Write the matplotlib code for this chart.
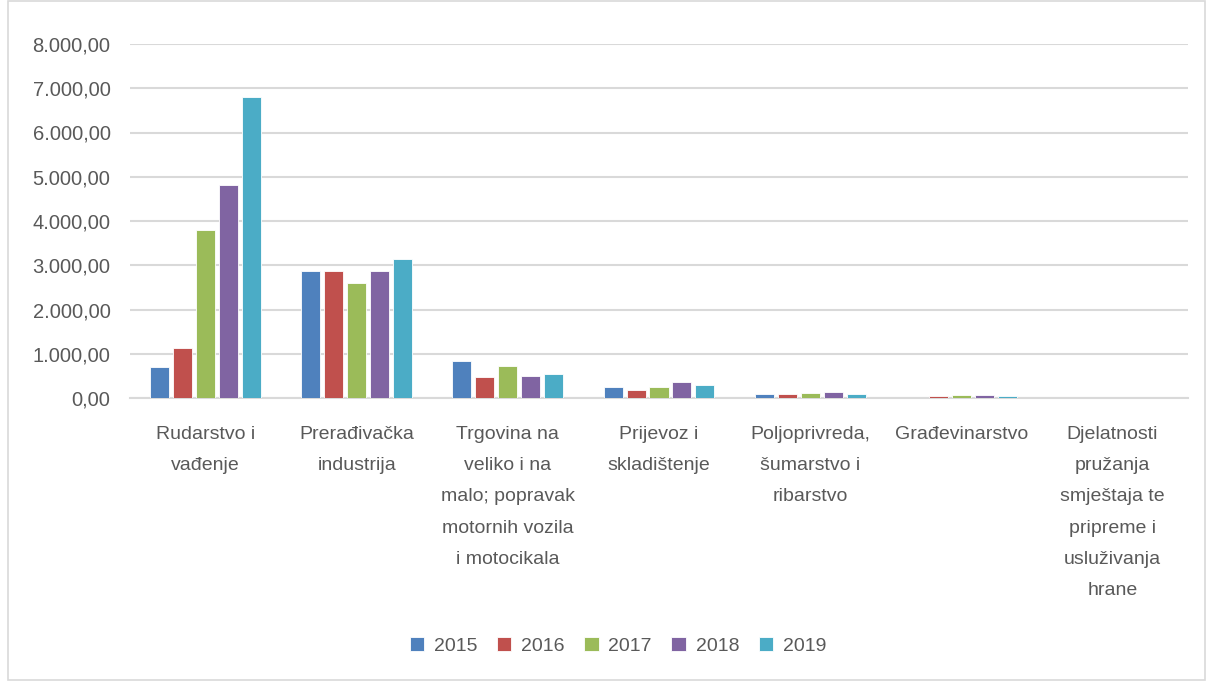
import matplotlib
matplotlib.use("Agg")
import matplotlib.pyplot as plt
import numpy as np
from matplotlib.patches import Rectangle
from matplotlib.ticker import FuncFormatter

categories = ["Rudarstvo i\nvađenje", "Prerađivačka\nindustrija",
              "Trgovina na\nveliko i na\nmalo; popravak\nmotornih vozila\ni motocikala",
              "Prijevoz i\nskladištenje", "Poljoprivreda,\nšumarstvo i\nribarstvo",
              "Građevinarstvo",
              "Djelatnosti\npružanja\nsmještaja te\npripreme i\nusluživanja\nhrane"]
years = ["2015", "2016", "2017", "2018", "2019"]
v2015 = [700, 2860, 830, 240, 90, 0, 0]
v2016 = [1130, 2860, 470, 180, 90, 50, 0]
v2017 = [3800, 2610, 720, 240, 120, 75, 0]
v2018 = [4820, 2860, 500, 360, 145, 75, 0]
v2019 = [6800, 3140, 540, 300, 90, 40, 0]
series = [v2015, v2016, v2017, v2018, v2019]
colors = ["#4F81BD", "#C0504D", "#9BBB59", "#8064A2", "#4BACC6"]
yticks = [0, 1000, 2000, 3000, 4000, 5000, 6000, 7000, 8000]

plt.rcParams['font.family'] = ['Liberation Sans Narrow', 'Liberation Sans', 'DejaVu Sans']

fig = plt.figure(figsize=(12.06, 6.81), dpi=100)
ax = fig.add_axes([130/1206, 1 - 398/681, (1188-130)/1206, (398-44)/681])

x = np.arange(len(categories))
step = 0.152
width = 0.126
for i, (vals, c, yr) in enumerate(zip(series, colors, years)):
    ax.bar(x + (i - 2) * step, vals, width=width, color=c, label=yr,
           edgecolor="white", linewidth=0.6, zorder=3)

ax.set_xlim(-0.5, len(categories) - 0.5)
ax.set_ylim(0, 8000)
ax.set_yticks(yticks)
def fmt(v, pos):
    s = f"{v:,.2f}"
    return s.replace(",", "X").replace(".", ",").replace("X", ".")
ax.yaxis.set_major_formatter(FuncFormatter(fmt))
ax.grid(axis='y', color="#D9D9D9", linewidth=1.5, zorder=0)
for s in ["top", "right", "left"]:
    ax.spines[s].set_visible(False)
ax.spines["bottom"].set_color("#D9D9D9")
ax.spines["bottom"].set_linewidth(1.5)
ax.tick_params(axis='y', length=0, pad=14, labelsize=14.5, labelcolor="#595959")
ax.tick_params(axis='x', length=0, pad=20, labelsize=14, labelcolor="#595959")
ax.set_xticks(x)
ax.set_xticklabels(categories, linespacing=2.1, va='top')

leg = fig.legend(loc='center', bbox_to_anchor=(618/1206, 1 - 646/681), ncol=5,
                 frameon=False, fontsize=14, handlelength=0.75, handleheight=0.75,
                 handletextpad=0.5, columnspacing=1.0, labelcolor="#595959")

fig.patches.append(Rectangle((8/1206, 0.002), 1 - 9/1206, 0.996, transform=fig.transFigure,
                             fill=False, edgecolor="#D9D9D9", linewidth=1.2))

fig.savefig("out.png", dpi=100)
